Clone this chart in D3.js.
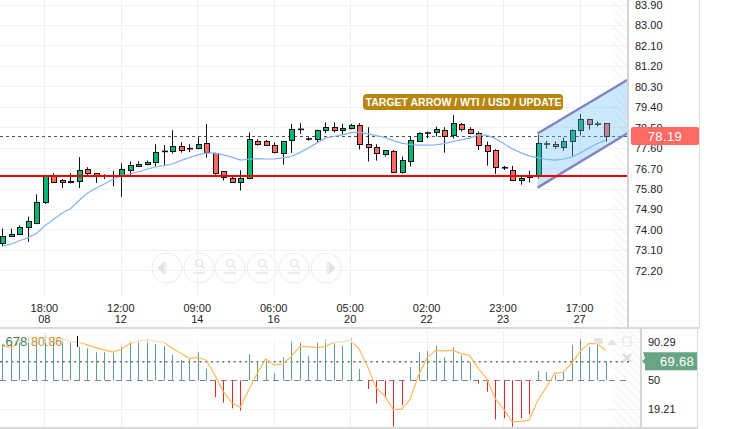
<!DOCTYPE html>
<html><head><meta charset="utf-8">
<script src="https://cdn.jsdelivr.net/npm/d3@7/dist/d3.min.js"></script>
<style>html,body{margin:0;padding:0;background:#fff;overflow:hidden}svg{display:block}text{font-family:"Liberation Sans",Arial,sans-serif}</style>
</head><body><svg id="c" width="747" height="429"></svg>
<script>
const opens=[73.43,73.74,73.83,74.09,74.30,75.24,76.39,76.18,76.14,76.12,76.67,76.49,76.39,76.39,76.37,76.65,76.79,76.87,76.96,77.45,77.45,77.68,77.60,77.58,77.82,77.38,76.58,76.27,76.09,76.29,77.93,77.91,77.73,77.36,77.95,78.43,78.02,77.99,78.38,78.52,78.38,78.46,78.61,77.77,77.64,77.33,77.46,76.54,77.01,77.91,78.29,78.30,78.39,78.17,78.66,78.43,78.26,77.73,77.51,76.76,76.62,76.18,76.42,76.42,77.80,77.77,77.64,77.90,78.38,78.86,78.67,78.70];
const highs=[74.06,74.06,74.20,74.58,75.56,76.42,76.49,76.23,76.49,77.20,76.76,76.49,76.45,76.60,76.93,77.01,77.02,77.05,77.77,77.74,78.39,77.86,77.77,78.08,78.66,77.40,76.58,76.37,76.62,78.29,77.99,77.96,77.85,77.91,78.66,78.70,78.08,78.41,78.73,78.73,78.67,78.67,78.70,78.52,77.77,77.51,77.52,77.23,78.14,78.29,78.33,78.55,78.52,79.05,78.70,78.52,78.33,77.89,77.55,76.82,76.82,76.37,76.61,78.18,77.92,77.89,78.07,78.43,79.10,78.88,78.77,78.70];
const lows=[73.28,73.70,73.81,73.47,74.25,75.14,76.12,75.84,76.04,75.84,76.42,76.07,76.24,75.93,75.45,76.40,76.77,76.84,76.79,76.84,77.36,77.40,77.42,77.54,77.18,76.43,76.17,76.08,75.73,76.23,77.71,77.70,77.36,76.87,77.39,78.23,77.93,77.82,78.26,78.29,78.18,78.42,77.54,77.01,77.05,77.23,76.54,76.48,76.79,77.91,78.04,78.11,77.40,78.02,78.33,78.24,77.51,76.83,76.46,76.64,76.17,75.99,76.08,76.26,77.58,77.57,77.48,77.26,78.16,78.41,78.55,77.88];
const closes=[73.74,73.84,74.12,74.37,75.21,76.37,76.12,76.08,76.08,76.62,76.49,76.40,76.37,76.35,76.67,76.85,76.89,76.98,77.42,77.46,77.68,77.49,77.55,77.77,77.42,76.49,76.32,76.09,76.27,77.99,77.80,77.73,77.40,77.91,78.43,78.42,77.98,78.39,78.52,78.38,78.48,78.61,77.77,77.62,77.38,77.51,76.54,77.07,77.95,78.26,78.24,78.43,78.13,78.70,78.43,78.26,77.73,77.46,76.76,76.71,76.18,76.27,76.32,77.82,77.76,77.67,77.90,78.38,78.88,78.66,78.64,78.12];
const movingAvg=[73.28,73.37,73.52,73.65,73.84,74.18,74.46,74.73,74.93,75.28,75.61,75.83,76.02,76.23,76.39,76.46,76.56,76.67,76.77,76.83,76.90,77.05,77.18,77.30,77.39,77.38,77.30,77.20,77.07,77.11,77.14,77.12,77.12,77.17,77.23,77.40,77.60,77.82,78.04,78.11,78.18,78.27,78.30,78.23,78.15,78.07,77.93,77.82,77.76,77.73,77.73,77.74,77.80,77.89,77.96,78.04,78.17,78.17,78.02,77.80,77.57,77.40,77.26,77.18,77.11,77.07,77.11,77.20,77.37,77.59,77.79,77.95];
const rsiBars=[88.2,89.2,92.8,95.2,96.3,98.1,94.5,93.8,91,85.7,83.9,79.7,79.7,79.3,85.7,91.7,92.8,93.8,88.2,86.4,76.9,71.6,73.3,79.7,62,32,26.3,20.3,17.8,77.6,69.1,70.5,57.4,74.4,92.8,90.3,75.8,90.3,93.8,89.2,86.8,95.2,62,40.8,25.6,32.7,0.9,23.8,64.1,79.7,81.1,86.8,74.4,85,76.9,69.1,46.5,38,8.6,9.7,0.9,9.7,13.9,59.9,58.8,55.7,58.8,87.5,93.5,85.7,87.5,69.68];
const rsiSignal=[86.8,84.6,91,95.6,95.2,95.2,95.6,94.5,91,90.3,87.5,84.6,82.2,80,82.9,88.9,91.7,93.1,91.7,90.3,83.9,78.6,73.3,74.4,71.2,55.7,38,26.3,21.4,39.7,57.4,72.6,66.3,67.3,75.1,85.7,85.7,84.6,85.7,90.3,91,92.4,83.2,64.5,42.2,33.4,19.2,19.2,29.9,55.7,74,81.8,81.1,81.8,78.3,76.5,62.7,52.1,30.9,19.6,6.2,6.5,7.6,28.1,42.2,57.4,58.5,68,80.4,88.9,88.9,81.8];
const priceTicks=[83.9,83.0,82.1,81.2,80.3,79.4,78.5,77.6,76.7,75.8,74.9,74.0,73.1,72.2];
const timeIdx=[5,14,23,32,41,50,59,68];
const timeLabels=["18:00","12:00","09:00","06:00","05:00","02:00","23:00","17:00"];
const dateLabels=["08","12","14","16","20","22","23","27"];
const rsiTicks=[90.29,50,19.21];
const supportLevel=76.37, lastPriceLevel=78.13, lastPriceText="78.19";
const rsiLast=69.68, rsiMid=50, legendA=".678", legendB="80.86";
const channelX=[63,73.7], channelTop=[78.24,80.63], channelBottom=[75.86,78.28];
const targetText="TARGET ARROW / WTI / USD / UPDATE";

const svg=d3.select("#c");
const x=d3.scaleLinear().domain([0,71]).range([2.4,605.5]);
const y=d3.scaleLinear().domain([75.8,83.9]).range([189,5]);
const yR=d3.scaleLinear().domain([50,90.29]).range([380.3,342.3]);
const plotR=627, lowR=640;
const defs=svg.append("defs");
const pat=defs.append("pattern").attr("id","h").attr("width",6).attr("height",6).attr("patternUnits","userSpaceOnUse").attr("patternTransform","rotate(-45)");
pat.append("line").attr("x1",0).attr("x2",0).attr("y1",0).attr("y2",6).attr("stroke","#f6f6f6").attr("stroke-width",3);
defs.append("clipPath").attr("id","cp").append("rect").attr("width",plotR).attr("height",295);

// hatch
svg.append("rect").attr("x",613).attr("y",0).attr("width",plotR-613).attr("height",327).attr("fill","url(#h)");
svg.append("rect").attr("x",613).attr("y",330).attr("width",lowR-613).attr("height",97).attr("fill","url(#h)");

// grid
const grid=svg.append("g").attr("stroke","#f1f1f1").attr("stroke-width",1).attr("shape-rendering","crispEdges");
grid.selectAll(".v").data(timeIdx).join("line").attr("x1",d=>x(d)).attr("x2",d=>x(d)).attr("y1",0).attr("y2",296);
grid.selectAll(".v2").data(timeIdx).join("line").attr("x1",d=>x(d)).attr("x2",d=>x(d)).attr("y1",330).attr("y2",427);
grid.selectAll(".h").data(priceTicks).join("line").attr("x1",0).attr("x2",plotR).attr("y1",d=>y(d)).attr("y2",d=>y(d));
grid.selectAll(".h2").data(rsiTicks.filter(d=>d!==50)).join("line").attr("x1",0).attr("x2",lowR).attr("y1",d=>yR(d)).attr("y2",d=>yR(d));

// navigation buttons
const nav=svg.append("g").attr("fill","none").attr("stroke","#ececec");
[167,199,230,262,294,326].forEach(cx=>nav.append("circle").attr("cx",cx).attr("cy",268).attr("r",15));
const navI=svg.append("g").attr("fill","#e2e2e2").attr("stroke","#e2e2e2");
navI.append("path").attr("d","M164 262v12l-6-6zM166 262v12").attr("stroke-width",1);
navI.append("path").attr("d","M329 262v12l6-6zM327 262v12").attr("stroke-width",1);
[[199,264],[230,264],[262,264],[294,264]].forEach(([a,b])=>{
  navI.append("circle").attr("cx",a).attr("cy",b-1).attr("r",3.5).attr("fill","none").attr("stroke-width",1.2);
  navI.append("line").attr("x1",a+2.5).attr("y1",b+1.5).attr("x2",a+6).attr("y2",b+5).attr("stroke-width",1.4);
  navI.append("line").attr("x1",a-6).attr("y1",b+9).attr("x2",a+6).attr("y2",b+9).attr("stroke-width",1.2);
});

// levels below marks
svg.append("line").attr("x1",0).attr("x2",plotR).attr("y1",y(lastPriceLevel)).attr("y2",y(lastPriceLevel)).attr("stroke","#555").attr("stroke-dasharray","3,3").attr("shape-rendering","crispEdges");

// candles
const idx=d3.range(opens.length);
const up="#08b574", dn="#f9695f";
const main=svg.append("g").attr("clip-path","url(#cp)");
main.append("g").selectAll("line").data(idx).join("line")
 .attr("x1",i=>Math.round(x(i))+.5).attr("x2",i=>Math.round(x(i))+.5).attr("y1",i=>y(highs[i])).attr("y2",i=>y(lows[i]))
 .attr("stroke","#111").attr("stroke-width",1);
const isDoji=i=>Math.abs(opens[i]-closes[i])<=0.06;
main.append("g").selectAll("rect").data(idx.filter(i=>!isDoji(i))).join("rect")
 .attr("x",i=>Math.round(x(i))-2).attr("width",5)
 .attr("y",i=>Math.round(y(Math.max(opens[i],closes[i])))+.5)
 .attr("height",i=>Math.max(1,Math.round(Math.abs(y(opens[i])-y(closes[i])))))
 .attr("fill",i=>closes[i]>opens[i]?up:dn).attr("stroke","#111").attr("stroke-width",1).attr("shape-rendering","crispEdges");
main.append("g").selectAll("line").data(idx.filter(isDoji)).join("line")
 .attr("x1",i=>Math.round(x(i))-2).attr("x2",i=>Math.round(x(i))+4)
 .attr("y1",i=>y((opens[i]+closes[i])/2)).attr("y2",i=>y((opens[i]+closes[i])/2))
 .attr("stroke","#111").attr("stroke-width",1.6);

// moving average
main.append("path").attr("d",d3.line().x((d,i)=>x(i)).y(d=>y(d))(movingAvg)).attr("fill","none").attr("stroke","#83b4f4").attr("stroke-width",1.2);

// channel
const chanPts=[0,1].map(i=>[x(channelX[i]),y(channelTop[i])]).concat([1,0].map(i=>[x(channelX[i]),y(channelBottom[i])]));
main.append("path").attr("d",d3.line()(chanPts)+"Z").attr("fill","#63b9f5").attr("fill-opacity",.33);
[channelTop,channelBottom].forEach(s=>main.append("path").attr("d",d3.line()(channelX.map((c,i)=>[x(c),y(s[i])]))).attr("stroke","#8383c4").attr("stroke-width",2.4).attr("fill","none"));

// support line
svg.append("line").attr("x1",0).attr("x2",plotR).attr("y1",y(supportLevel)).attr("y2",y(supportLevel)).attr("stroke","#f50000").attr("stroke-width",2);

// target label
const tg=svg.append("g");
tg.append("rect").attr("x",363).attr("y",94).attr("width",200).attr("height",16).attr("rx",4).attr("fill","#b8860b");
tg.append("text").attr("x",463.5).attr("y",106).attr("text-anchor","middle").attr("fill","#fff").attr("font-size",10.5).attr("font-weight","bold").text(targetText);

// lower panel
svg.append("line").attr("x1",0).attr("x2",lowR-10).attr("y1",yR(rsiLast)).attr("y2",yR(rsiLast)).attr("stroke","#666").attr("stroke-width",1.6).attr("stroke-dasharray","2,3.7");
svg.append("line").attr("x1",0).attr("x2",lowR-10).attr("y1",yR(rsiMid)).attr("y2",yR(rsiMid)).attr("stroke","#888").attr("stroke-dasharray","6,4.5").attr("shape-rendering","crispEdges");
svg.append("g").selectAll("line").data(idx).join("line")
 .attr("x1",i=>Math.round(x(i))+.5).attr("x2",i=>Math.round(x(i))+.5)
 .attr("y1",yR(rsiMid)).attr("y2",i=>yR(rsiBars[i]))
 .attr("stroke",i=>rsiBars[i]>=rsiMid?"#5fa27e":"#e8252b").attr("stroke-width",1);
svg.append("path").attr("d",d3.line().x((d,i)=>x(i)).y(d=>yR(d))(rsiSignal)).attr("fill","none").attr("stroke","#ffb75c").attr("stroke-width",1.2);
// fade at top of lower panel
svg.append("rect").attr("x",0).attr("y",330).attr("width",400).attr("height",13).attr("fill","#fff").attr("fill-opacity",.55);

svg.append("text").attr("x",2).attr("y",345.5).attr("font-size",13).attr("fill","#3f7f60").text(legendA);
svg.append("text").attr("x",31).attr("y",345.5).attr("font-size",12.5).attr("fill","#c98f3a").text(legendB);
svg.append("line").attr("x1",77.5).attr("x2",77.5).attr("y1",336).attr("y2",347).attr("stroke","#000");

// small panel icons
const ic=svg.append("g").attr("fill","#e4e4e4");
ic.append("rect").attr("x",594).attr("y",338).attr("width",9).attr("height",6).attr("rx",2);
ic.append("path").attr("d","M607 345l5-6 5 6z");
ic.append("rect").attr("x",623).attr("y",337).attr("width",8).attr("height",9).attr("fill","none").attr("stroke","#e4e4e4");
ic.append("path").attr("d","M623 354l8 8M631 354l-8 8").attr("stroke","#dcdcdc").attr("stroke-width",2.4);

// frames
const fr=svg.append("g").attr("shape-rendering","crispEdges");
fr.append("rect").attr("x",627).attr("y",0).attr("width",2).attr("height",328).attr("fill","#d4d4d4");
fr.append("rect").attr("x",699).attr("y",0).attr("width",1).attr("height",328).attr("fill","#ddd");
fr.append("rect").attr("x",0).attr("y",327).attr("width",700).attr("height",2).attr("fill","#d9d9d9");
fr.append("rect").attr("x",640).attr("y",328).attr("width",2).attr("height",100).attr("fill","#d4d4d4");
fr.append("rect").attr("x",697).attr("y",328).attr("width",1).attr("height",100).attr("fill","#ddd");
fr.append("rect").attr("x",0).attr("y",427).attr("width",698).attr("height",2).attr("fill","#d9d9d9");

// axes
const styleAxis=g=>{g.select(".domain").remove();g.selectAll(".tick line").remove();g.selectAll("text").attr("font-family",'"Liberation Sans",Arial,sans-serif').attr("font-size",11).attr("fill","#222");};
// the 78.50 tick sits behind the price flag, as in the reference
svg.append("g").attr("transform","translate(631,0)").call(d3.axisRight(y).tickValues(priceTicks).tickFormat(d3.format(".2f")).tickSize(0).tickPadding(4)).call(styleAxis);
svg.append("g").attr("transform","translate(644,0)").call(d3.axisRight(yR).tickValues(rsiTicks).tickFormat(d=>String(d)).tickSize(0).tickPadding(4)).call(styleAxis);
svg.append("g").attr("transform","translate(-1,298)").call(d3.axisBottom(x).tickValues(timeIdx).tickFormat((d,i)=>timeLabels[i]).tickSize(0).tickPadding(6)).call(styleAxis);
svg.append("g").attr("transform","translate(-1,309)").call(d3.axisBottom(x).tickValues(timeIdx).tickFormat((d,i)=>dateLabels[i]).tickSize(0).tickPadding(6)).call(styleAxis);

// price flags
const py=136;
svg.append("rect").attr("x",631).attr("y",py-9).attr("width",68).attr("height",18).attr("rx",2).attr("fill","#ff6b64");
svg.append("text").attr("x",665).attr("y",py+4.5).attr("text-anchor","middle").attr("fill","#fff").attr("font-size",13).attr("letter-spacing",.4).text(lastPriceText);
const ry=yR(rsiLast)-.5;
svg.append("path").attr("d",`M643 ${ry-9}H697V${ry+9}H645V${ry+3}L642 ${ry}L645 ${ry-3}Z`).attr("fill","#68a583");
svg.append("text").attr("x",694).attr("y",ry+4.5).attr("text-anchor","end").attr("fill","#fff").attr("font-size",13).attr("letter-spacing",.3).text(rsiLast.toFixed(2));
</script></body></html>
